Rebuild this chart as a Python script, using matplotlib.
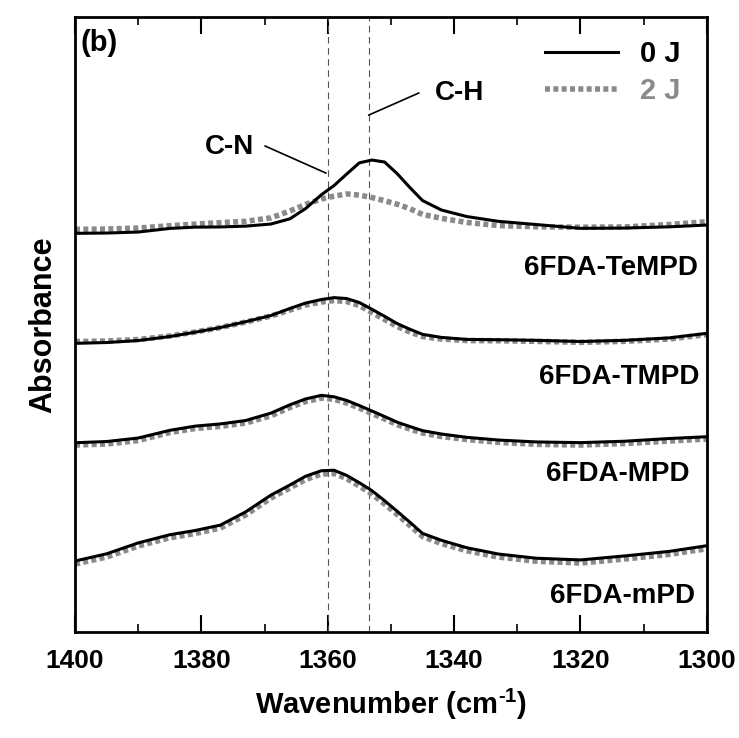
import numpy as np
import matplotlib
matplotlib.use("Agg")
import matplotlib.pyplot as plt
from matplotlib.ticker import MultipleLocator

plt.rcParams["font.family"] = ["Liberation Sans", "DejaVu Sans"]
plt.rcParams["font.weight"] = "bold"
plt.rcParams["mathtext.fontset"] = "custom"
plt.rcParams["mathtext.rm"] = "Liberation Sans:bold"
plt.rcParams["mathtext.bf"] = "Liberation Sans:bold"

# wavenumber grid (cm-1), shared by all spectra
wavenumber = [1400, 1395, 1390, 1385, 1381, 1377, 1373, 1369, 1366, 1363.5, 1361,
              1359, 1357, 1355, 1353, 1351, 1349, 1347, 1345, 1342, 1338, 1333,
              1327, 1320, 1313, 1306, 1300]

# absorbance (arbitrary units, stacked with offsets)
tempd_0j = [3.987, 3.990, 4.000, 4.036, 4.049, 4.051, 4.059, 4.080, 4.132, 4.235, 4.373,
            4.465, 4.580, 4.692, 4.720, 4.700, 4.583, 4.445, 4.315, 4.220, 4.155, 4.107,
            4.075, 4.037, 4.040, 4.052, 4.070]
tempd_2j = [4.027, 4.030, 4.040, 4.063, 4.079, 4.094, 4.107, 4.142, 4.210, 4.276, 4.331,
            4.359, 4.381, 4.369, 4.345, 4.313, 4.278, 4.233, 4.176, 4.137, 4.096, 4.065,
            4.053, 4.048, 4.051, 4.075, 4.103]
tmpd_0j = [2.887, 2.895, 2.915, 2.955, 2.998, 3.045, 3.103, 3.165, 3.235, 3.290, 3.325,
           3.344, 3.335, 3.295, 3.227, 3.157, 3.084, 3.028, 2.977, 2.946, 2.926, 2.923,
           2.917, 2.905, 2.917, 2.941, 2.987]
tmpd_2j = [2.905, 2.910, 2.925, 2.960, 3.000, 3.045, 3.100, 3.160, 3.220, 3.270, 3.300,
           3.315, 3.305, 3.265, 3.195, 3.125, 3.055, 3.000, 2.955, 2.930, 2.915, 2.913,
           2.907, 2.897, 2.907, 2.930, 2.975]
mpd_0j = [1.893, 1.905, 1.940, 2.017, 2.059, 2.081, 2.115, 2.189, 2.272, 2.331, 2.367,
          2.352, 2.316, 2.265, 2.210, 2.155, 2.098, 2.055, 2.014, 1.980, 1.947, 1.920,
          1.901, 1.894, 1.908, 1.935, 1.953]
mpd_2j = [1.870, 1.880, 1.915, 1.995, 2.035, 2.057, 2.090, 2.162, 2.245, 2.305, 2.340,
          2.327, 2.290, 2.240, 2.185, 2.130, 2.073, 2.030, 1.990, 1.955, 1.925, 1.897,
          1.877, 1.870, 1.885, 1.910, 1.930]
mpd_m_0j = [0.710, 0.782, 0.891, 0.973, 1.015, 1.069, 1.201, 1.369, 1.470, 1.558, 1.613,
            1.618, 1.566, 1.493, 1.413, 1.313, 1.207, 1.098, 0.986, 0.917, 0.843, 0.780,
            0.738, 0.721, 0.761, 0.806, 0.863]
mpd_m_2j = [0.680, 0.750, 0.860, 0.943, 0.985, 1.040, 1.170, 1.340, 1.440, 1.525, 1.580,
            1.585, 1.535, 1.460, 1.380, 1.280, 1.175, 1.065, 0.955, 0.885, 0.813, 0.750,
            0.708, 0.690, 0.730, 0.776, 0.833]

spectra = [tempd_0j, tmpd_0j, mpd_0j, mpd_m_0j]
spectra_2j = [tempd_2j, tmpd_2j, mpd_2j, mpd_m_2j]
names = ["6FDA-TeMPD", "6FDA-TMPD", "6FDA-MPD", "6FDA-mPD"]
name_pos = [(0.985, 0.592), (0.988, 0.415), (0.972, 0.257), (0.982, 0.058)]

band_cn = 1360
band_ch = 1353.5

gray = "#8a8a8a"

fig = plt.figure(figsize=(7.39, 7.38), dpi=100)
ax = fig.add_axes([0.1015, 0.1436, 0.855, 0.8333])

ax.axvline(band_cn, color="#555555", lw=0.8, ls=(0, (6, 4)))
ax.axvline(band_ch, color="#555555", lw=0.8, ls=(0, (6, 4)))

for k in range(len(spectra)):
    ax.plot(wavenumber, spectra_2j[k], color=gray, lw=4, ls=(0, (0.9, 0.6)),
            dash_capstyle="butt", label="2 J" if k == 0 else None, zorder=2)
    ax.plot(wavenumber, spectra[k], color="black", lw=2.2,
            label="0 J" if k == 0 else None, zorder=3)
    ax.text(name_pos[k][0], name_pos[k][1], names[k], transform=ax.transAxes,
            ha="right", va="center", fontsize=20, fontweight="bold")

# annotations
ax.text(1375.6, 4.85, "C-N", ha="center", va="center", fontsize=20, fontweight="bold")
ax.plot([1369.9, 1360.3], [4.86, 4.59], color="black", lw=1.2)
ax.text(1339.1, 5.39, "C-H", ha="center", va="center", fontsize=20, fontweight="bold")
ax.plot([1345.6, 1353.5], [5.39, 5.17], color="black", lw=1.2)

ax.text(0.008, 0.958, "(b)", transform=ax.transAxes, ha="left", va="center",
        fontsize=21, fontweight="bold")

handles, labels = ax.get_legend_handles_labels()
order = [1, 0]
leg = ax.legend([handles[i] for i in order], [labels[i] for i in order],
                loc="upper right", bbox_to_anchor=(1.0, 1.005), frameon=False,
                fontsize=21, handlelength=2.5, handletextpad=0.75, labelspacing=0.3,
                labelcolor=["black", gray])

ax.set_xlim(1400, 1300)
ax.set_ylim(0, 6.15)
ax.set_yticks([])
ax.xaxis.set_major_locator(MultipleLocator(20))
ax.xaxis.set_minor_locator(MultipleLocator(10))
ax.tick_params(axis="x", which="major", direction="in", length=12, width=1.5,
               top=True, labelsize=19, pad=12)
ax.tick_params(axis="x", which="minor", direction="in", length=6, width=1.2, top=True)
for s in ax.spines.values():
    s.set_linewidth(2)

ax.set_xlabel(r"Wavenumber (cm$^{\text{-1}}$)", fontsize=21, fontweight="bold", labelpad=10)
ax.set_ylabel("Absorbance", fontsize=22, fontweight="bold", labelpad=12)

fig.savefig("out.png", dpi=100)
